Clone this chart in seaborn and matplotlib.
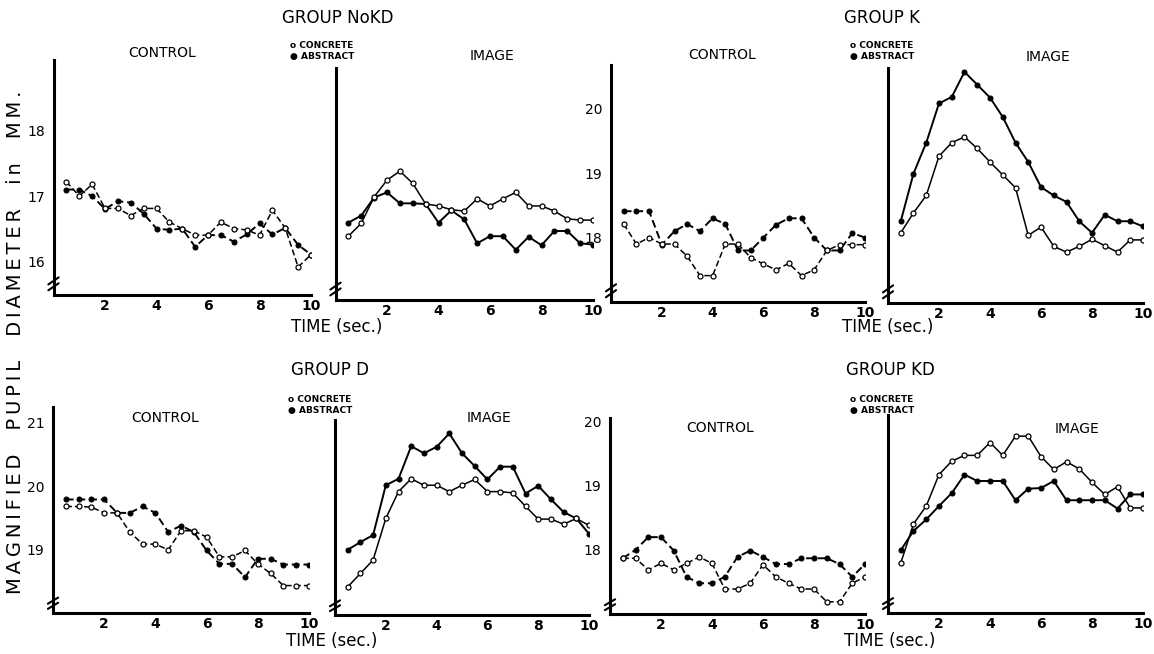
import matplotlib
matplotlib.use("Agg")
import matplotlib.pyplot as plt
import pandas as pd
import seaborn as sns

# 시간축 (0.5초 간격, 20개 지점)
time_sec = [0.5, 1.0, 1.5, 2.0, 2.5, 3.0, 3.5, 4.0, 4.5, 5.0,
            5.5, 6.0, 6.5, 7.0, 7.5, 8.0, 8.5, 9.0, 9.5, 10.0]

# GROUP NoKD
nokd_control_concrete = [17.22, 17.0, 17.18, 16.81, 16.81, 16.7, 16.81, 16.81, 16.6, 16.5,
                         16.4, 16.4, 16.6, 16.5, 16.48, 16.4, 16.78, 16.51, 15.91, 16.1]
nokd_control_abstract = [17.1, 17.1, 17.0, 16.8, 16.92, 16.9, 16.73, 16.5, 16.48, 16.5,
                         16.22, 16.4, 16.4, 16.3, 16.41, 16.58, 16.41, 16.51, 16.25, 16.1]
nokd_image_concrete = [16.39, 16.59, 17.0, 17.26, 17.4, 17.21, 16.89, 16.86, 16.8, 16.78,
                       16.97, 16.86, 16.97, 17.07, 16.86, 16.86, 16.78, 16.66, 16.64, 16.64]
nokd_image_abstract = [16.6, 16.71, 16.99, 17.07, 16.9, 16.9, 16.89, 16.6, 16.79, 16.65,
                       16.28, 16.39, 16.39, 16.18, 16.38, 16.25, 16.47, 16.47, 16.28, 16.26]

# GROUP K
k_control_concrete = [18.21, 17.9, 18.0, 17.9, 17.9, 17.71, 17.41, 17.41, 17.9, 17.9,
                      17.69, 17.59, 17.5, 17.6, 17.41, 17.5, 17.8, 17.89, 17.89, 17.89]
k_control_abstract = [18.41, 18.41, 18.41, 17.89, 18.1, 18.21, 18.1, 18.3, 18.21, 17.8,
                      17.8, 18.0, 18.2, 18.3, 18.3, 18.0, 17.8, 17.8, 18.07, 18.0]
k_image_concrete = [18.08, 18.39, 18.66, 19.27, 19.48, 19.57, 19.39, 19.18, 18.98, 18.78,
                    18.04, 18.17, 17.87, 17.78, 17.87, 17.98, 17.88, 17.78, 17.97, 17.97]
k_image_abstract = [18.26, 19.0, 19.48, 20.09, 20.19, 20.58, 20.38, 20.18, 19.88, 19.48,
                    19.18, 18.79, 18.66, 18.56, 18.26, 18.08, 18.36, 18.26, 18.26, 18.18]

# GROUP D
d_control_concrete = [19.68, 19.68, 19.67, 19.58, 19.58, 19.28, 19.09, 19.09, 19.0, 19.3,
                      19.3, 19.2, 18.89, 18.89, 18.99, 18.78, 18.63, 18.44, 18.44, 18.44]
d_control_abstract = [19.79, 19.79, 19.79, 19.79, 19.58, 19.58, 19.68, 19.58, 19.28, 19.38,
                      19.28, 18.99, 18.78, 18.78, 18.57, 18.86, 18.86, 18.77, 18.77, 18.77]
d_image_concrete = [18.42, 18.63, 18.84, 19.49, 19.91, 20.11, 20.01, 20.01, 19.91, 20.01,
                    20.1, 19.91, 19.91, 19.89, 19.68, 19.48, 19.48, 19.4, 19.49, 19.38]
d_image_abstract = [19.0, 19.12, 19.23, 20.01, 20.11, 20.62, 20.51, 20.61, 20.82, 20.51,
                    20.31, 20.1, 20.3, 20.3, 19.88, 20.0, 19.79, 19.59, 19.49, 19.25]

# GROUP KD
kd_control_concrete = [17.87, 17.87, 17.69, 17.79, 17.69, 17.79, 17.89, 17.79, 17.39, 17.39,
                       17.48, 17.77, 17.58, 17.48, 17.39, 17.39, 17.19, 17.19, 17.48, 17.58]
kd_control_abstract = [17.87, 18.0, 18.2, 18.2, 17.99, 17.58, 17.48, 17.48, 17.58, 17.89,
                       17.99, 17.89, 17.78, 17.78, 17.87, 17.87, 17.87, 17.78, 17.58, 17.78]
kd_image_concrete = [17.8, 18.41, 18.69, 19.18, 19.39, 19.48, 19.48, 19.68, 19.48, 19.78,
                     19.78, 19.46, 19.26, 19.38, 19.27, 19.06, 18.87, 18.99, 18.66, 18.66]
kd_image_abstract = [18.0, 18.3, 18.48, 18.69, 18.89, 19.18, 19.08, 19.08, 19.08, 18.78,
                     18.96, 18.97, 19.08, 18.78, 18.78, 18.78, 18.78, 18.65, 18.87, 18.87]

sns.set_style("white")
plt.rcParams["font.family"] = ["DejaVu Sans"]
plt.rcParams["text.color"] = "black"
plt.rcParams["xtick.color"] = "black"
plt.rcParams["ytick.color"] = "black"

W, H = 1154, 654
fig = plt.figure(figsize=(W / 100, H / 100), dpi=100)

# (x0, x10, 아래 y, 위 y) 픽셀 위치, y범위, y눈금, 눈금라벨 여부, 점선 여부, 데이터
panels = [
    ((53.5, 311, 295, 60), (15.48, 19.09), [16, 17, 18], True, True,
     nokd_control_concrete, nokd_control_abstract),
    ((335.5, 593, 300, 68), (15.40, 19.0), [16, 17, 18], False, False,
     nokd_image_concrete, nokd_image_abstract),
    ((611, 865, 302, 65), (17.0, 20.68), [18, 19, 20], True, True,
     k_control_concrete, k_control_abstract),
    ((888, 1143, 303, 68), (16.99, 20.64), [18, 19, 20], False, False,
     k_image_concrete, k_image_abstract),
    ((53, 309, 613, 407), (18.01, 21.24), [19, 20, 21], True, True,
     d_control_concrete, d_control_abstract),
    ((335, 589, 615, 420), (17.98, 21.03), [19, 20], False, False,
     d_image_concrete, d_image_abstract),
    ((610, 865, 614, 418), (17.0, 20.06), [18, 19, 20], True, True,
     kd_control_concrete, kd_control_abstract),
    ((888, 1143, 613, 415), (17.02, 20.11), [18, 19], False, False,
     kd_image_concrete, kd_image_abstract),
]

for (x0, x10, yb, yt), ylim, yticks, labeled, dashed, conc, abst in panels:
    ax = fig.add_axes([x0 / W, (H - yb) / H, (x10 - x0) / W, (yb - yt) / H])
    df = pd.DataFrame({"time": time_sec, "concrete": conc, "abstract": abst})
    ls = (0, (4, 2)) if dashed else "-"
    sns.lineplot(data=df, x="time", y="abstract", ax=ax, color="black",
                 linestyle=ls, linewidth=1.4, marker="o", markersize=3.6,
                 markerfacecolor="black", markeredgecolor="black")
    sns.lineplot(data=df, x="time", y="concrete", ax=ax, color="black",
                 linestyle=ls, linewidth=1.1, marker="o", markersize=3.6,
                 markerfacecolor="white", markeredgecolor="black",
                 markeredgewidth=0.9)
    ax.set_xlim(0, 10)
    ax.set_ylim(*ylim)
    ax.set_xlabel("")
    ax.set_ylabel("")
    ax.set_xticks(range(1, 11))
    ax.set_xticklabels(["" if i % 2 else str(i) for i in range(1, 11)],
                       fontsize=10, fontweight="bold")
    ax.tick_params(axis="x", direction="in", length=5, width=1.8, pad=3)
    ax.set_yticks(yticks)
    if labeled:
        ax.set_yticklabels([str(v) for v in yticks], fontsize=10)
        ax.tick_params(axis="y", direction="out", length=5, width=1.5, pad=1)
    else:
        ax.set_yticklabels([])
        ax.tick_params(axis="y", direction="in", length=5, width=1.5)
    ax.patch.set_alpha(0)
    for side in ["top", "right"]:
        ax.spines[side].set_visible(False)
    for side in ["left", "bottom"]:
        ax.spines[side].set_linewidth(2.2)
        ax.spines[side].set_color("black")
    # 축 생략 표시 (≈)
    for dy in (0.035, 0.06):
        ax.plot([-0.02, 0.02], [dy - 0.015, dy + 0.015], transform=ax.transAxes,
                color="black", lw=1.5, clip_on=False)

def ftxt(x, y, s, **kw):
    fig.text(x / W, 1 - y / H, s, **kw)

# 그룹 제목
ftxt(338, 18, "GROUP NoKD", fontsize=12, ha="center", va="center")
ftxt(882, 18, "GROUP K", fontsize=12, ha="center", va="center")
ftxt(330, 370, "GROUP D", fontsize=12, ha="center", va="center")
ftxt(890, 370, "GROUP KD", fontsize=12, ha="center", va="center")

# 조건 제목
ftxt(162, 53, "CONTROL", fontsize=10, ha="center", va="center")
ftxt(492, 56, "IMAGE", fontsize=10, ha="center", va="center")
ftxt(722, 55, "CONTROL", fontsize=10, ha="center", va="center")
ftxt(1048, 57, "IMAGE", fontsize=10, ha="center", va="center")
ftxt(165, 418, "CONTROL", fontsize=10, ha="center", va="center")
ftxt(489, 418, "IMAGE", fontsize=10, ha="center", va="center")
ftxt(720, 428, "CONTROL", fontsize=10, ha="center", va="center")
ftxt(1077, 429, "IMAGE", fontsize=10, ha="center", va="center")

# 범례
for lx, ly in [(290, 46), (850, 46), (288, 399), (850, 399)]:
    ftxt(lx, ly, "o CONCRETE", fontsize=6.5, fontweight="bold", ha="left", va="center")
    ftxt(lx, ly + 11, "● ABSTRACT", fontsize=6.5, fontweight="bold", ha="left", va="center")

# 시간축 라벨
for tx, ty in [(337, 327), (888, 327), (332, 641), (890, 641)]:
    ftxt(tx, ty, "TIME (sec.)", fontsize=12, ha="center", va="center")

ylabel = "\u2009".join("MAGNIFIED  PUPIL  DIAMETER  in  MM.")
ftxt(16, 342, ylabel, fontsize=14, rotation=90, ha="center", va="center")

plt.savefig("out.png", dpi=100)
